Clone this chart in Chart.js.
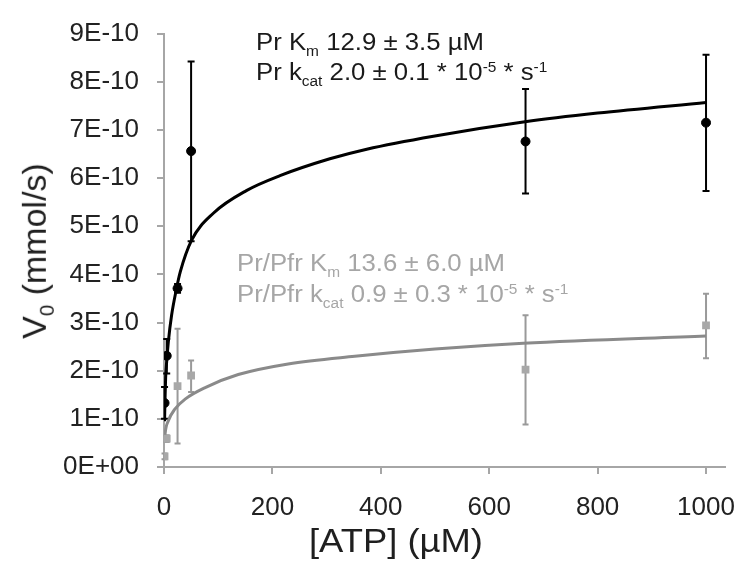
<!DOCTYPE html>
<html>
<head>
<meta charset="utf-8">
<script src="https://cdn.jsdelivr.net/npm/chart.js@4.4.1/dist/chart.umd.min.js"></script>
<style>
    html, body { margin: 0; padding: 0; background: #fff; }
    #wrap { position: relative; width: 739px; height: 565px; overflow: hidden; }
    #chart { position: absolute; left: 0; top: 0; }
    .txt { position: absolute; font-family: "Liberation Sans", Arial, sans-serif; white-space: nowrap; line-height: 1; transform-origin: 0 0; }
    .sub { font-size: 0.6em; position: relative; top: 0.4em; }
    .sup { font-size: 0.6em; position: relative; top: -0.55em; }
    .note { font-size: 23px; transform: scaleX(1.12); }
    .dark { color: #1a1a1a; }
    .grey { color: #a6a6a6; }
    .axis-title { font-size: 34px; color: #1f1f1f; }
</style>
</head>
<body>
<div id="wrap">
    <canvas id="chart" width="739" height="565"></canvas>

    <div class="txt note dark" style="left:256px; top:31px;">Pr K<span class="sub">m</span> 12.9 ± 3.5 µM</div>
    <div class="txt note dark" style="left:256px; top:61px;">Pr k<span class="sub">cat</span> 2.0 ± 0.1 * 10<span class="sup">-5</span> * s<span class="sup">-1</span></div>

    <div class="txt note grey" style="left:237px; top:252px;">Pr/Pfr K<span class="sub">m</span> 13.6 ± 6.0 µM</div>
    <div class="txt note grey" style="left:237px; top:283px;">Pr/Pfr k<span class="sub">cat</span> 0.9 ± 0.3 * 10<span class="sup">-5</span> * s<span class="sup">-1</span></div>

    <div id="xTitle" class="txt axis-title">[ATP] (µM)</div>
    <div id="yTitle" class="txt axis-title">V<span class="sub">0</span> (mmol/s)</div>
</div>

<script>
// Pr (black circles) - measured points with error bars
const prX = [1, 5, 25, 50, 667, 1000];
const prV = [1.33e-10, 2.31e-10, 3.71e-10, 6.56e-10, 6.76e-10, 7.15e-10];
const prLow = [1.0e-10, 1.94e-10, 3.62e-10, 4.69e-10, 5.68e-10, 5.73e-10];
const prHigh = [1.66e-10, 2.66e-10, 3.80e-10, 8.42e-10, 7.85e-10, 8.56e-10];

// Pr/Pfr (grey squares)
const pfrX = [1, 5, 25, 50, 667, 1000];
const pfrV = [0.22e-10, 0.59e-10, 1.68e-10, 1.90e-10, 2.02e-10, 2.94e-10];
const pfrLow = [0.16e-10, 0.52e-10, 0.49e-10, 1.56e-10, 0.88e-10, 2.26e-10];
const pfrHigh = [0.28e-10, 0.66e-10, 2.87e-10, 2.21e-10, 3.15e-10, 3.60e-10];

// fitted curves
const prFitX = [1, 2, 3, 5, 8, 14, 23, 30, 51, 91, 152, 214, 306, 374, 497, 666, 800, 1000];
const prFitV = [0.95e-10, 1.45e-10, 1.85e-10, 2.2e-10, 2.6e-10, 3.15e-10, 3.7e-10, 4.05e-10, 4.71e-10,
    5.27e-10, 5.74e-10, 6.05e-10, 6.4e-10, 6.6e-10, 6.87e-10, 7.17e-10, 7.35e-10, 7.57e-10];
const pfrFitX = [1, 2, 8, 20, 39, 76, 137, 229, 352, 500, 663, 1000];
const pfrFitV = [0.52e-10, 0.69e-10, 0.96e-10, 1.2e-10, 1.41e-10, 1.65e-10, 1.92e-10, 2.14e-10,
    2.3e-10, 2.45e-10, 2.57e-10, 2.72e-10];

// axis ticks
const xTicks = [0, 200, 400, 600, 800, 1000];
const xTickLabels = ['0', '200', '400', '600', '800', '1000'];
const yTicks = [0, 1e-10, 2e-10, 3e-10, 4e-10, 5e-10, 6e-10, 7e-10, 8e-10, 9e-10];
const yTickLabels = ['0E+00', '1E-10', '2E-10', '3E-10', '4E-10', '5E-10', '6E-10', '7E-10', '8E-10', '9E-10'];

const toPoints = (xs, ys) => xs.map((x, i) => ({ x: x, y: ys[i] }));

function drawErrorBars(ctx, xScale, yScale, xs, lows, highs, color, width, cap) {
    ctx.save();
    ctx.strokeStyle = color;
    ctx.lineWidth = width;
    xs.forEach((xv, i) => {
        const px = xScale.getPixelForValue(xv);
        const top = yScale.getPixelForValue(highs[i]);
        const bot = yScale.getPixelForValue(lows[i]);
        ctx.beginPath();
        ctx.moveTo(px, top);
        ctx.lineTo(px, bot);
        ctx.moveTo(px - cap, top);
        ctx.lineTo(px + cap, top);
        ctx.moveTo(px - cap, bot);
        ctx.lineTo(px + cap, bot);
        ctx.stroke();
    });
    ctx.restore();
}

const errorBarPlugin = {
    id: 'errorBars',
    beforeDatasetsDraw(chart) {
        const { ctx, scales } = chart;
        drawErrorBars(ctx, scales.x, scales.y, pfrX, pfrLow, pfrHigh, '#9a9a9a', 2, 3);
        drawErrorBars(ctx, scales.x, scales.y, prX, prLow, prHigh, '#000000', 2, 3.5);
    }
};

const axisGrey = '#a6a6a6';
const tickFont = { family: '"Liberation Sans", Arial, sans-serif', size: 26 };

new Chart(document.getElementById('chart'), {
    type: 'scatter',
    data: {
        datasets: [
            {
                type: 'line',
                data: toPoints(prFitX, prFitV),
                borderColor: '#000000',
                borderWidth: 3,
                pointRadius: 0,
                cubicInterpolationMode: 'monotone',
                fill: false,
                order: 2
            },
            {
                type: 'line',
                data: toPoints(pfrFitX, pfrFitV),
                borderColor: '#8a8a8a',
                borderWidth: 3,
                pointRadius: 0,
                cubicInterpolationMode: 'monotone',
                fill: false,
                order: 4
            },
            {
                data: toPoints(prX, prV),
                pointStyle: 'circle',
                pointRadius: 4.5,
                backgroundColor: '#000000',
                borderColor: '#000000',
                borderWidth: 1,
                order: 1
            },
            {
                data: toPoints(pfrX, pfrV),
                pointStyle: 'rect',
                pointRadius: 5.5,
                backgroundColor: '#a8a8a8',
                borderColor: '#a8a8a8',
                borderWidth: 0,
                order: 3
            }
        ]
    },
    options: {
        responsive: false,
        animation: false,
        layout: { padding: { top: 28, right: 14, left: 0, bottom: 0 } },
        plugins: {
            legend: { display: false },
            tooltip: { enabled: false }
        },
        scales: {
            x: {
                type: 'linear',
                min: 0,
                max: 1035,
                afterBuildTicks: (s) => { s.ticks = xTicks.map(v => ({ value: v })); },
                afterFit: (s) => {
                    s.height = 98;
                    // labels may hang past the edge, no extra room wanted
                    s.paddingLeft = 0;
                    s.paddingRight = 0;
                },
                ticks: {
                    color: '#222222',
                    font: tickFont,
                    padding: 18,
                    maxRotation: 0,
                    callback: (v, i) => xTickLabels[i]
                },
                grid: { drawOnChartArea: false, drawTicks: true, tickLength: 7, color: axisGrey, lineWidth: 2 },
                border: { color: axisGrey, width: 2 }
            },
            y: {
                type: 'linear',
                min: 0,
                max: 9e-10,
                afterBuildTicks: (s) => { s.ticks = yTicks.map(v => ({ value: v })); },
                afterFit: (s) => { s.width = 164; },
                ticks: {
                    color: '#222222',
                    font: tickFont,
                    padding: 18,
                    callback: (v, i) => yTickLabels[i]
                },
                grid: { drawOnChartArea: false, drawTicks: true, tickLength: 7, color: axisGrey, lineWidth: 2 },
                border: { color: axisGrey, width: 2 }
            }
        }
    },
    plugins: [errorBarPlugin]
});

// place axis titles centred on their spots
const xTitle = document.getElementById('xTitle');
xTitle.style.left = (396 - xTitle.offsetWidth * 1.07 / 2) + 'px';
xTitle.style.top = '523px';
xTitle.style.transform = 'scaleX(1.07)';

const yTitle = document.getElementById('yTitle');
const w = yTitle.offsetWidth, h = yTitle.offsetHeight;
yTitle.style.left = (34 - w / 2) + 'px';
yTitle.style.top = (251 - h / 2) + 'px';
yTitle.style.transformOrigin = '50% 50%';
yTitle.style.transform = 'rotate(-90deg)';
</script>
</body>
</html>
